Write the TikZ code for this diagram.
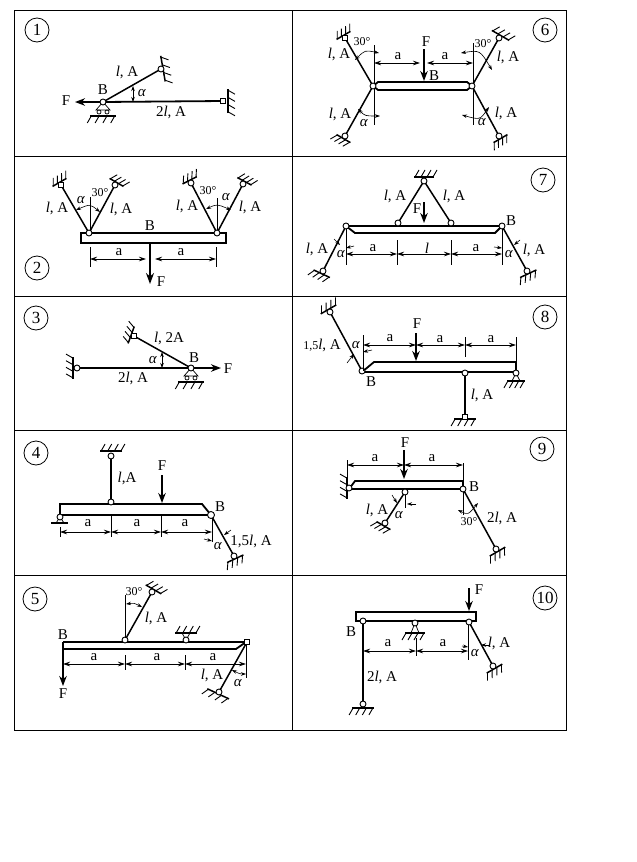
\documentclass[tikz,border=0pt]{standalone}
\usepackage{fontspec}
\setmainfont{Liberation Serif}
\usetikzlibrary{arrows.meta}
\newcounter{labn}
\tikzset{
  frameline/.style={line width=1pt},
  barline/.style={line width=1.8pt,line join=miter},
  strut/.style={line width=1.5pt},
  thinline/.style={line width=0.7pt},
  hatchline/.style={line width=0.9pt},
  hingeshape/.style={line width=0.9pt,fill=white},
  force/.style={line width=2.2pt,-{Stealth[length=10pt,width=7.5pt]}},
  dimline/.style={line width=0.7pt,{Stealth[length=7pt,width=4.5pt]}-{Stealth[length=7pt,width=4.5pt]}},
  arcline/.style={line width=0.6pt,{Stealth[length=5pt,width=3.5pt]}-{Stealth[length=5pt,width=3.5pt]}},
  onetip/.style={line width=0.6pt,-{Stealth[length=5pt,width=3.5pt]}},
  numcircle/.style={circle,draw,line width=0.8pt,minimum size=24pt,inner sep=0pt,font=\fontsize{17}{17}\selectfont},
  lbl/.style={inner sep=0pt,font=\fontsize{15}{15}\selectfont},
  small/.style={inner sep=0pt,font=\fontsize{12}{12}\selectfont},
}
\newcommand{\lab}[3]{\stepcounter{labn}\node[lbl] (lab\thelabn) at (#1,#2) {#3};}
\newcommand{\slab}[3]{\stepcounter{labn}\node[small] (lab\thelabn) at (#1,#2) {#3};}
\newcommand{\num}[3]{\node[numcircle] (num#3) at (#1,#2) {#3};}
\newcommand{\lA}{\textit{l}, A}
\newcommand{\al}{\textit{α}}
\newcommand{\hj}[2]{\draw[hingeshape] (#1,#2) circle (3);}
\newcommand{\hjsq}[2]{\draw[hingeshape] ({#1-2.5},{#2-2.5}) rectangle ({#1+2.5},{#2+2.5});}
% x, y, direction of the hatching, half length, offset
\newcommand{\mkwall}[5]{\begin{scope}[shift={(#1,#2)},rotate=#3+90]
  \draw[strut] (-#4,#5)--(#4,#5);
  \foreach \t in {-0.9,-0.3,0.3,0.9} \draw[hatchline] ({\t*#4},#5)--({\t*#4-4},{#5+7});
\end{scope}}
\newcommand{\mkroller}[2]{
  \draw[thinline] (#1,#2)--({#1-7},{#2+8})--({#1+7},{#2+8})--cycle;
  \draw[thinline] ({#1-4},{#2+10}) circle (2) ({#1+4},{#2+10}) circle (2);
  \mkwall{#1}{#2}{-90}{13}{14}
  \hj{#1}{#2}}
% x, y, hatching direction, half length, distance
\newcommand{\mkpin}[5]{\begin{scope}[shift={(#1,#2)},rotate=#3+90]
  \draw[thinline] (0,0)--(-4,#5)--(4,#5)--cycle;
\end{scope}
  \mkwall{#1}{#2}{#3}{#4}{#5}
  \hj{#1}{#2}}
\newcommand{\dimh}[3]{\draw[dimline] (#1,#3)--(#2,#3);}
\newcommand{\tick}[3]{\draw[thinline] (#1,#2)--(#1,#3);}
\begin{document}
\begin{tikzpicture}[x=1pt,y=-1pt]
\useasboundingbox (0,0) rectangle (637,862);
\fill[white] (0,0) rectangle (637,862);
% frame
\draw[frameline] (14.5,10.5) rectangle (566.5,730);
\draw[frameline] (292.5,10.5)--(292.5,730);
\foreach \yy in {156.5,296,430.5,575} \draw[frameline] (14.5,\yy)--(566.5,\yy);
\num{37}{30}{1}\num{37}{268}{2}\num{36}{318}{3}\num{36}{453}{4}\num{35}{599}{5}
\num{545}{30}{6}\num{543}{180}{7}\num{545}{317}{8}\num{542}{449}{9}\num{545}{598}{10}

% ---- panel 1
\draw[strut] (103,102)--(161,69);
\draw[barline] (103,102)--(223,101);
\draw[force] (103,102)--(75,102);
\mkwall{161}{69}{10}{13}{2}
\mkwall{223}{101}{0}{12}{5}
\hj{161}{69}\hjsq{223}{101}
\mkroller{103}{102}
\draw[arcline] (133,86)--(133,102);
\lab{66}{101}{F}\lab{103}{90}{B}\lab{127}{72}{\lA}\lab{142}{93}{\al}\lab{171}{112}{2\lA}

% ---- panel 2
\draw[strut] (89,233)--(61,185) (89,233)--(115,185) (217,233)--(191,183) (217,233)--(243,184);
\mkwall{61}{185}{120}{8}{3}\mkwall{115}{185}{60}{8}{3}\mkwall{191}{183}{117}{8}{3}\mkwall{243}{184}{62}{8}{3}
\hjsq{61}{185}\hj{115}{185}\hj{191}{183}\hj{243}{184}
\draw[barline] (81,233) rectangle (226,243);
\hj{89}{233}\hj{217}{233}
\draw[thinline] (90,230)--(90,197) (217,230)--(217,198);
\draw[arcline] (76,210) .. controls (90,204) .. (100,212);
\draw[arcline] (206,209) .. controls (217,204) .. (231,210);
\tick{90}{247}{267}\tick{216}{247}{267}
\dimh{90}{146}{259}\dimh{155}{216}{259}
\draw[line width=2.6pt,-{Stealth[length=11pt,width=8pt]}] (150,243)--(150,284);
\lab{119}{252}{a}\lab{181}{252}{a}\lab{161}{282}{F}\lab{150}{226}{B}
\lab{57}{208}{\lA}\lab{121}{209}{\lA}\lab{187}{206}{\lA}\lab{250}{207}{\lA}
\lab{81}{200}{\al}\lab{226}{197}{\al}
\slab{100}{193}{30°}\slab{208}{191}{30°}

% ---- panel 3
\draw[barline] (77,368)--(191,368);
\draw[strut] (191,368)--(134,336);
\draw[force] (191,368)--(221,368);
\mkwall{77}{368}{180}{11}{4}
\mkwall{134}{336}{160}{9}{3}
\hj{77}{368}\hjsq{134}{336}
\mkroller{191}{368}
\draw[arcline] (162,352)--(162,368);
\lab{228}{369}{F}\lab{194}{358}{B}\lab{169}{338}{\textit{l}, 2A}\lab{153}{360}{\al}\lab{133}{378}{2\lA}

% ---- panel 4
\mkwall{111}{456}{90}{11}{5}
\draw[strut] (111,456)--(111,502);
\hj{111}{456}
\draw[barline] (211,515)--(60,515)--(60,504)--(202,504)--(211,515);
\hj{111}{502}
\draw[force] (162,475)--(162,503);
\draw[strut] (211,515)--(234,556);
\mkwall{234}{556}{-65}{9}{3}
\hj{234}{556}
\draw[hingeshape] (211,515) circle (3.5);
\draw[thinline] (60,517)--(56,523)--(64,523)--cycle;
\draw[strut] (51,523)--(68,523);
\hj{60}{517}
\tick{60}{527}{537}\tick{111}{515}{537}\tick{161}{515}{537}\tick{212}{518}{542}
\dimh{60}{111}{532}\dimh{111}{161}{532}\dimh{161}{212}{532}
\draw[onetip] (204,539)--(212,541);
\draw[onetip] (231,530)--(224,535);
\lab{88}{523}{a}\lab{137}{523}{a}\lab{185}{523}{a}
\lab{127}{478}{\textit{l},A}\lab{162}{466}{F}\lab{220}{507}{B}\lab{218}{546}{\al}\lab{251}{541}{1,5\lA}

% ---- panel 5
\draw[strut] (125,640)--(152,592);
\mkwall{152}{592}{60}{9}{3}
\hj{152}{592}
\draw[barline] (63,642)--(246,642);
\draw[barline] (63,642)--(63,649)--(236,649)--(246,642);
\hj{125}{640}
\mkpin{186}{640}{90}{11}{7}
\draw[force] (63,649)--(63,686);
\draw[strut] (247,642)--(219,692);
\mkwall{219}{692}{-115}{12}{2}
\hj{219}{692}\hjsq{247}{642}
\draw[thinline] (125,595)--(125,638);
\draw[arcline] (126,604) .. controls (134,603) .. (142,607);
\draw[arcline] (232,670) .. controls (240,674) .. (246,674);
\tick{125}{655}{670}\tick{185}{655}{670}\tick{246}{645}{678}
\dimh{63}{125}{664}\dimh{125}{185}{664}\dimh{185}{246}{664}
\lab{63}{635}{B}\lab{63}{694}{F}\lab{94}{657}{a}\lab{157}{657}{a}\lab{213}{657}{a}
\lab{156}{618}{\lA}\lab{212}{675}{\lA}\lab{238}{683}{\al}
\slab{134}{592}{30°}

% ---- panel 6
\draw[strut] (373,86)--(345,38) (373,86)--(345,136) (472,86)--(499,38) (472,86)--(499,136);
\mkwall{345}{38}{120}{8}{3}\mkwall{499}{38}{60}{10}{3}\mkwall{345}{136}{-120}{8}{3}\mkwall{499}{136}{-60}{8}{3}
\hjsq{345}{38}\hj{499}{38}\hj{345}{136}\hj{499}{136}
\draw[barline] (373,86)--(378,82)--(467,82)--(472,86)--(467,90)--(378,90)--cycle;
\draw[thinline] (374,45)--(374,125) (473,43)--(473,125);
\hj{373}{86}\hj{472}{86}
\draw[force] (424,49)--(424,81);
\dimh{374}{420}{63}\dimh{427}{473}{63}
\draw[arcline] (355,60) .. controls (365,50) .. (379,53);
\draw[arcline] (461,53) .. controls (480,50) .. (492,70);
\draw[arcline] (358,109) .. controls (365,116) .. (380,116);
\draw[arcline] (462,115) .. controls (480,120) .. (489,107);
\lab{398}{56}{a}\lab{445}{56}{a}\lab{426}{42}{F}\lab{434}{76}{B}
\lab{339}{54}{\lA}\lab{508}{57}{\lA}\lab{340}{114}{\lA}\lab{506}{113}{\lA}
\lab{364}{123}{\al}\lab{482}{122}{\al}
\slab{362}{42}{30°}\slab{483}{44}{30°}

% ---- panel 7
\mkwall{424}{181}{90}{10}{4}
\draw[strut] (424,181)--(398,223) (424,181)--(451,223) (346,226)--(323,271) (502,226)--(527,271);
\mkwall{323}{271}{-115}{9}{3}\mkwall{527}{271}{-65}{9}{3}
\hj{424}{181}\hj{323}{271}\hj{527}{271}
\draw[barline] (346,226)--(502,226)--(495,233)--(355,233)--cycle;
\hj{398}{223}\hj{451}{223}\hj{346}{226}\hj{502}{226}
\draw[force] (424,202)--(424,223);
\tick{346}{229}{265}\tick{397}{240}{265}\tick{451}{240}{265}\tick{502}{229}{265}
\dimh{346}{397}{254}\dimh{397}{451}{254}\dimh{451}{502}{254}
\draw[onetip] (354,246)--(346,248);
\draw[onetip] (334,239)--(340,245);
\draw[onetip] (494,247)--(502,248);
\draw[onetip] (520,240)--(514,245);
\lab{395}{196}{\lA}\lab{454}{196}{\lA}\lab{317}{249}{\lA}\lab{534}{250}{\lA}
\lab{417}{209}{F}\lab{511}{221}{B}\lab{373}{248}{a}\lab{476}{248}{a}\lab{427}{248}{\textit{l}}
\lab{341}{254}{\al}\lab{509}{254}{\al}

% ---- panel 8
\draw[strut] (362,371)--(330,312);
\mkwall{330}{312}{120}{9}{3}
\hj{330}{312}
\draw[barline] (362,372)--(374,362)--(516,362)--(516,372)--cycle;
\hj{362}{371}
\mkpin{516}{373}{-90}{9}{8}
\draw[strut] (465,373)--(465,417);
\mkwall{465}{417}{-90}{11}{2}
\hjsq{465}{417}\hj{465}{373}
\draw[force] (416,333)--(416,361);
\tick{363}{335}{371}\tick{465}{337}{357}\tick{516}{337}{362}
\dimh{363}{416}{345}\dimh{416}{465}{345}\dimh{465}{516}{345}
\draw[onetip] (347,363)--(354,354);
\draw[onetip] (372,350)--(363,352);
\lab{417}{324}{F}\lab{390}{338}{a}\lab{440}{339}{a}\lab{491}{339}{a}\lab{371}{382}{B}
\lab{482}{395}{\lA}\lab{356}{345}{\al}
\stepcounter{labn}\node[lbl] (lab\thelabn) at (322,345) {{\fontsize{12}{12}\selectfont 1,5}\lA};

% ---- panel 9
\mkwall{349}{488}{180}{11}{2}
\draw[barline] (349,489)--(355,481)--(463,481)--(463,489)--cycle;
\hj{349}{488}
\draw[strut] (405,492)--(385,523) (463,489)--(496,549);
\mkwall{385}{523}{-120}{8}{3}\mkwall{496}{549}{-60}{9}{3}
\hj{385}{523}\hj{496}{549}\hj{405}{492}\hj{463}{489}
\draw[force] (404,450)--(404,479);
\tick{347}{460}{477}\tick{463}{463}{486}
\draw[thinline] (463,492)--(463,515) (405,495)--(405,508);
\dimh{347}{404}{465}\dimh{404}{463}{465}
\draw[onetip] (392,495)--(397,503);
\draw[onetip] (416,504)--(407,504);
\draw[arcline] (458,510) .. controls (468,515) .. (478,503);
\lab{405}{443}{F}\lab{375}{458}{a}\lab{432}{458}{a}\lab{474}{487}{B}
\lab{377}{510}{\lA}\lab{399}{515}{\al}\lab{502}{518}{2\lA}
\slab{469}{522}{30°}

% ---- panel 10
\draw[strut] (469,622)--(493,666);
\mkwall{493}{666}{-60}{9}{3}
\hj{493}{666}
\draw[barline] (356,612) rectangle (476,621);
\draw[barline] (363,621)--(363,704);
\mkwall{363}{704}{-90}{11}{4}
\hj{363}{621}\hj{363}{704}\hj{469}{622}
\mkpin{415}{623}{-90}{10}{10}
\draw[force] (469,588)--(469,611);
\tick{416}{638}{656}\tick{468}{625}{660}
\dimh{363}{416}{651}\dimh{416}{468}{651}
\draw[onetip] (462,646)--(468,647);
\draw[onetip] (490,645)--(481,645);
\lab{351}{632}{B}\lab{382}{677}{2\lA}\lab{388}{643}{a}\lab{443}{643}{a}\lab{479}{590}{F}
\lab{499}{643}{\lA}\lab{475}{653}{\al}
\end{tikzpicture}
\end{document}
